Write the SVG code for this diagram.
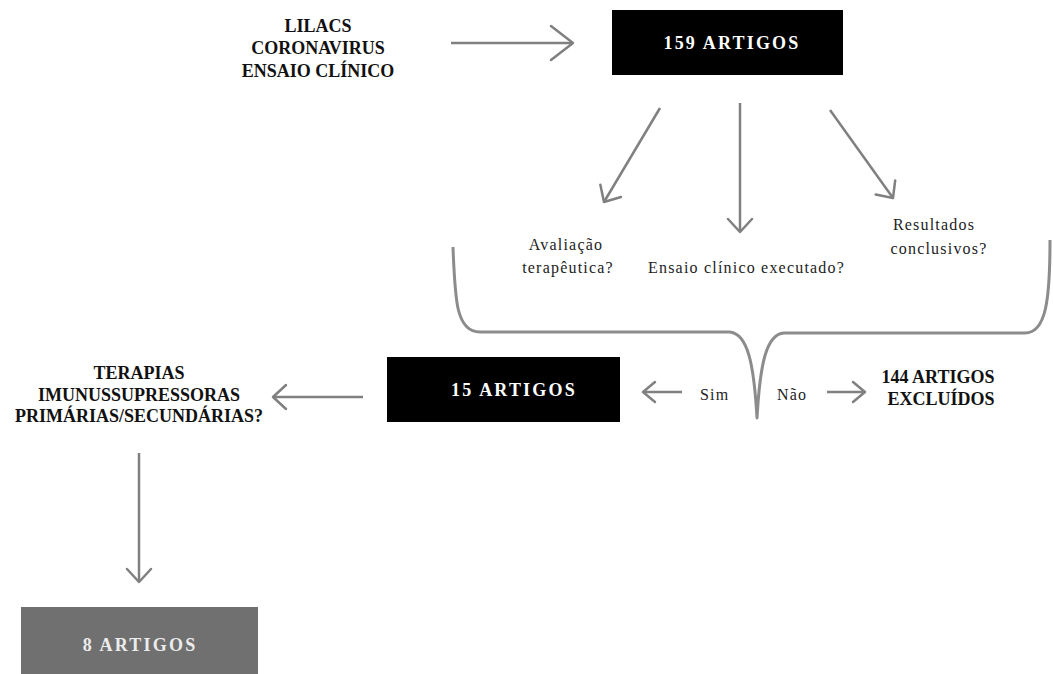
<svg xmlns="http://www.w3.org/2000/svg" width="1053" height="674" viewBox="0 0 1053 674">
<style>
.bold{font-family:"Liberation Serif","Times New Roman",serif;font-weight:bold;font-size:18px;fill:#111;text-anchor:middle}
.box{font-family:"Liberation Serif","Times New Roman",serif;font-weight:bold;font-size:18px;fill:#fff;text-anchor:middle;letter-spacing:2.2px}
.q{font-family:"Liberation Serif","Times New Roman",serif;font-size:16px;fill:#222;letter-spacing:1.2px}
.c{text-anchor:middle}
.arr{stroke:#808080;stroke-width:2.5;fill:none}
.brace{stroke:#8c8c8c;stroke-width:3;fill:none;stroke-linejoin:round}
</style>
<defs>
<marker id="ah" viewBox="-16 -15 19 30" refX="0" refY="0" markerWidth="19" markerHeight="30" markerUnits="userSpaceOnUse" orient="auto">
<path d="M-13,-12 L0,0 L-13,12" fill="none" stroke="#808080" stroke-width="2.5" stroke-linecap="round" stroke-linejoin="round"/>
</marker>
<marker id="ahL" viewBox="-26 -20 29 40" refX="0" refY="0" markerWidth="29" markerHeight="40" markerUnits="userSpaceOnUse" orient="auto">
<path d="M-22,-17 L0,0 L-22,17" fill="none" stroke="#808080" stroke-width="2.5" stroke-linecap="round" stroke-linejoin="round"/>
</marker>
<marker id="ahS" viewBox="-15 -12 18 24" refX="0" refY="0" markerWidth="18" markerHeight="24" markerUnits="userSpaceOnUse" orient="auto">
<path d="M-12,-10 L0,0 L-12,10" fill="none" stroke="#808080" stroke-width="2.5" stroke-linecap="round" stroke-linejoin="round"/>
</marker>
</defs>
<rect width="1053" height="674" fill="#fff"/>

<g id="connectors">
<line class="arr" x1="451" y1="43" x2="573" y2="43" marker-end="url(#ahL)"/>
<line class="arr" x1="660" y1="108" x2="604" y2="202" marker-end="url(#ah)"/>
<line class="arr" x1="740" y1="103" x2="740" y2="232" marker-end="url(#ah)"/>
<line class="arr" x1="830" y1="110" x2="893" y2="198" marker-end="url(#ah)"/>
<line class="arr" x1="363" y1="397" x2="273" y2="397" marker-end="url(#ah)"/>
<line class="arr" x1="139" y1="453" x2="139" y2="582" marker-end="url(#ah)"/>
<line class="arr" x1="682" y1="392" x2="643" y2="392" marker-end="url(#ahS)"/>
<line class="arr" x1="827" y1="392" x2="865" y2="392" marker-end="url(#ahS)"/>
<path class="brace" d="M453,247 C455,300 456,332 480,332 L730,332 C748,334 754,365 757,418 C760,365 766,334 784,333 L1025,333 C1046,333 1050,300 1050,240"/>
</g>

<g id="source">
<text class="bold" x="318" y="32">LILACS</text>
<text class="bold" x="318" y="54">CORONAVIRUS</text>
<text class="bold" x="318" y="77">ENSAIO CLÍNICO</text>
</g>

<g id="n159">
<rect x="612" y="10" width="231" height="65" fill="#000"/>
<text class="box" x="732" y="49">159 ARTIGOS</text>
</g>

<g id="q1">
<text class="q c" x="566" y="250">Avaliação</text>
<text class="q c" x="568" y="273">terapêutica?</text>
</g>

<g id="q2">
<text class="q" x="648" y="273">Ensaio clínico executado?</text>
</g>

<g id="q3">
<text class="q c" x="934" y="230">Resultados</text>
<text class="q c" x="939" y="254">conclusivos?</text>
</g>

<g id="n15">
<rect x="387" y="357" width="233" height="65" fill="#000"/>
<text class="box" x="514" y="396">15 ARTIGOS</text>
</g>

<g id="sim">
<text class="q" x="700" y="400">Sim</text>
</g>

<g id="nao">
<text class="q" x="777" y="400">Não</text>
</g>

<g id="n144">
<text class="bold" x="938" y="383">144 ARTIGOS</text>
<text class="bold" x="941" y="405">EXCLUÍDOS</text>
</g>

<g id="terapias">
<text class="bold" x="139" y="379">TERAPIAS</text>
<text class="bold" x="139" y="401">IMUNUSSUPRESSORAS</text>
<text class="bold" x="139" y="422">PRIMÁRIAS/SECUNDÁRIAS?</text>
</g>

<g id="n8">
<rect x="21" y="607" width="237" height="67" fill="#707070"/>
<text class="box" x="140" y="651" style="fill:#ececec">8 ARTIGOS</text>
</g>
</svg>
